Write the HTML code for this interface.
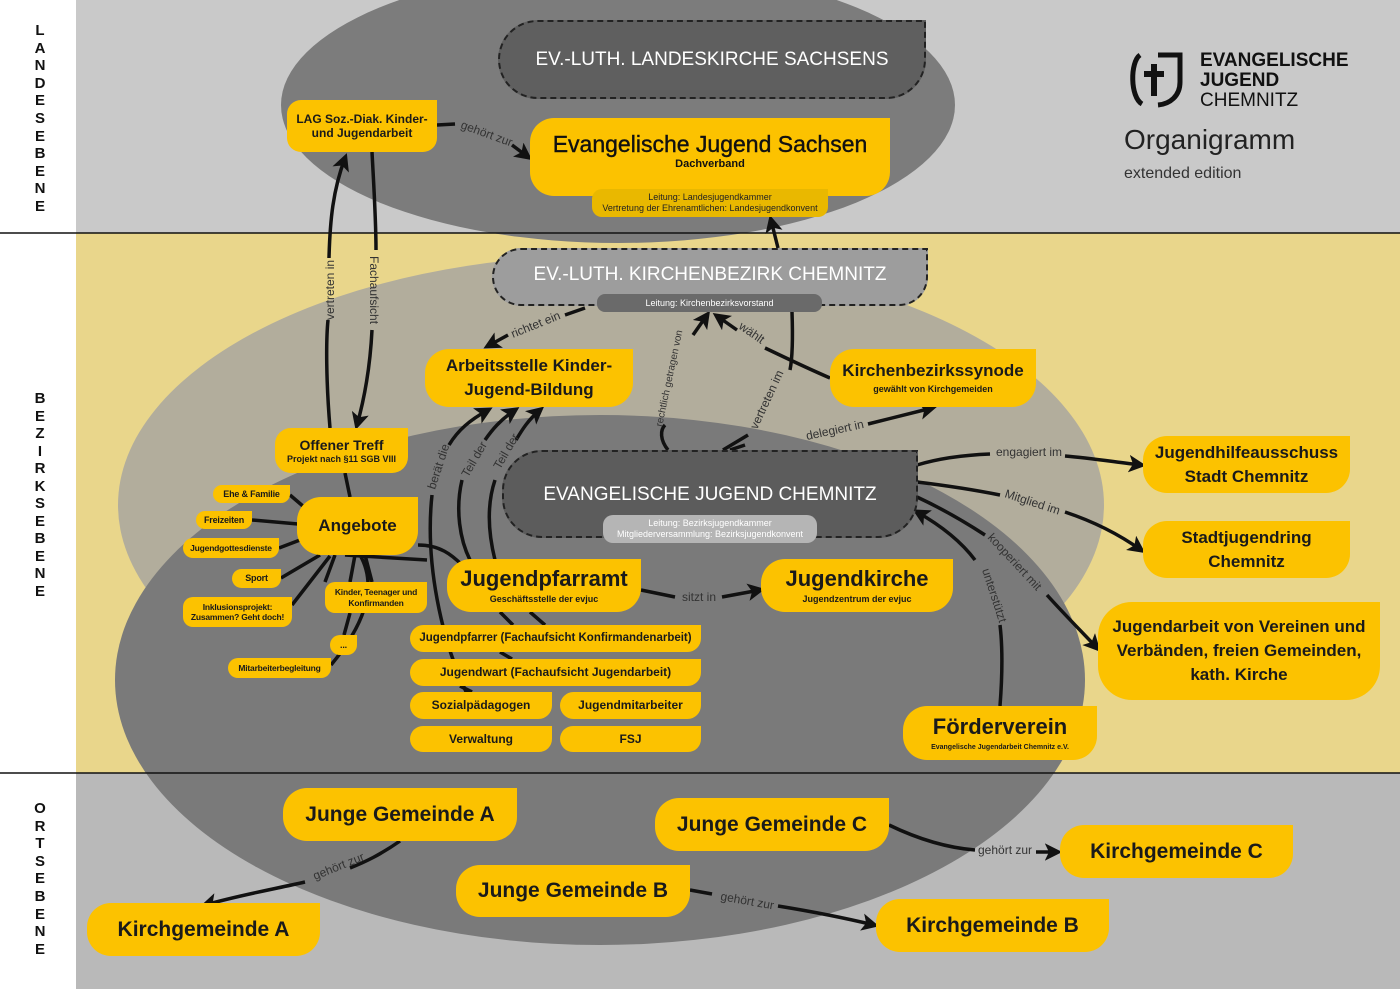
<!DOCTYPE html>
<html><head><meta charset="utf-8"><style>
*{margin:0;padding:0;box-sizing:border-box}
body{width:1400px;height:989px;position:relative;overflow:hidden;font-family:"Liberation Sans",sans-serif;background:#fff}
.b{position:absolute;background:#fcc200;border-radius:24px 0 24px 24px;color:#1a1a1a;font-weight:bold;text-align:center;display:flex;flex-direction:column;justify-content:center;align-items:center;line-height:1.2;white-space:nowrap}
.s{border-radius:10px 0 10px 10px;font-size:9px;letter-spacing:-0.2px}
.m{border-radius:14px 0 14px 14px;font-size:12px}
.d{position:absolute;border:2px dashed #222;border-radius:40px 0 40px 40px;color:#fff;font-size:19px;display:flex;justify-content:center;padding-top:0;align-items:center}
.sub{font-size:9px;font-weight:bold}
.lv{position:absolute;left:30px;width:20px;text-align:center;font-weight:bold;font-size:15px;color:#111}
</style></head><body>
<svg width="1400" height="989" style="position:absolute;left:0;top:0">
<defs>
<marker id="a" markerWidth="5" markerHeight="5" refX="3.5" refY="2.5" orient="auto" markerUnits="strokeWidth"><path d="M0,0 L5,2.5 L0,5 L1.2,2.5z" fill="#111"/></marker>
<clipPath id="mid"><rect x="76" y="233" width="1324" height="540"/></clipPath>
</defs>
<rect x="76" y="0" width="1324" height="233" fill="#c9c9c9"/>
<rect x="76" y="233" width="1324" height="540" fill="#e9d68b"/>
<rect x="76" y="773" width="1324" height="216" fill="#b9b9b9"/>
<ellipse cx="618" cy="105" rx="337" ry="138" fill="#7c7c7c"/>
<ellipse cx="611" cy="505" rx="493" ry="250" fill="#b2ad9c" clip-path="url(#mid)"/>
<ellipse cx="600" cy="680" rx="485" ry="265" fill="#7a7a7a"/>
<line x1="0" y1="233" x2="1400" y2="233" stroke="#111" stroke-width="1.5"/>
<line x1="0" y1="773" x2="1400" y2="773" stroke="#111" stroke-width="1.5"/>
<rect x="0" y="0" width="76" height="989" fill="#fff"/>
<line x1="0" y1="233" x2="76" y2="233" stroke="#111" stroke-width="1.5"/>
<line x1="0" y1="773" x2="76" y2="773" stroke="#111" stroke-width="1.5"/>
<g fill="none" stroke="#111" stroke-width="3.5">
<path d="M437,125 L455,124" /><path d="M512,145 L528,157" marker-end="url(#a)"/>
<path d="M330,428 C326,380 326,340 328,320" /><path d="M329,258 C330,220 333,190 345,158" marker-end="url(#a)"/>
<path d="M372,152 C374,190 376,220 376,250"/><path d="M372,330 C370,370 364,400 357,425" marker-end="url(#a)"/>
<path d="M778,248 L771,220" marker-end="url(#a)"/>
<path d="M585,308 L565,315"/><path d="M508,335 L488,346" marker-end="url(#a)"/>
<path d="M830,378 C800,365 780,355 765,348"/><path d="M737,330 L717,316" marker-end="url(#a)"/>
<path d="M668,450 C660,440 660,430 665,425"/><path d="M693,335 L707,315" marker-end="url(#a)"/>
<path d="M792,312 C793,340 792,360 790,370"/><path d="M748,435 L723,450"/>
<path d="M730,450 L745,445"/><path d="M868,424 L932,408" marker-end="url(#a)"/>
<path d="M449,445 C458,430 470,420 488,410" marker-end="url(#a)"/>
<path d="M485,440 C492,430 500,420 515,410" marker-end="url(#a)"/>
<path d="M516,440 C522,430 528,420 540,410" marker-end="url(#a)"/>
<path d="M432,495 C425,560 440,640 470,700"/>
<path d="M462,480 C455,510 460,540 470,560"/>
<path d="M495,480 C485,510 490,540 495,560"/>
<path d="M418,545 C440,545 452,555 462,565"/>
<path d="M500,612 L513,625 M530,612 L545,625 M500,652 L512,659 M460,686 L472,692"/>
<path d="M641,590 L675,597"/><path d="M722,597 L760,590" marker-end="url(#a)"/>
<path d="M917,465 C940,458 965,455 990,454"/><path d="M1065,456 C1090,458 1115,462 1141,465" marker-end="url(#a)"/>
<path d="M917,482 C950,486 975,490 1000,495"/><path d="M1065,512 C1095,522 1120,535 1141,550" marker-end="url(#a)"/>
<path d="M917,497 C945,510 965,522 985,535"/><path d="M1047,595 C1065,615 1082,632 1097,648" marker-end="url(#a)"/>
<path d="M1000,706 C1002,680 1003,650 1000,625"/><path d="M975,560 C960,540 940,525 917,512" marker-end="url(#a)"/>
<path d="M345,473 L350,497"/>
<path d="M290,495 L304,507 M252,520 L298,524 M279,548 L300,540 M281,578 L320,555 M292,605 L330,556 M427,560 L345,555 M344,635 L350,613 M331,665 C360,630 380,590 360,555 M335,555 L325,582 M355,555 L350,582 M365,555 L372,582"/>
<path d="M400,841 C380,855 365,862 350,868"/><path d="M305,882 C270,890 240,895 205,905" marker-end="url(#a)"/>
<path d="M690,890 L712,894"/><path d="M778,906 C815,912 845,918 874,925" marker-end="url(#a)"/>
<path d="M889,825 C920,840 950,848 975,850"/><path d="M1036,852 L1057,852" marker-end="url(#a)"/>
</g>
<g font-family="Liberation Sans,sans-serif" font-size="12" fill="#333">
<text transform="translate(460,128) rotate(20)">gehört zur</text>
<text transform="translate(334,320) rotate(-90)">vertreten in</text>
<text transform="translate(370,256) rotate(90)">Fachaufsicht</text>
<text transform="translate(513,338) rotate(-22)">richtet ein</text>
<text transform="translate(738,328) rotate(35)">wählt</text>
<text transform="translate(662,427) rotate(-78)" font-size="10">rechtlich getragen von</text>
<text transform="translate(757,430) rotate(-65)">vertreten im</text>
<text transform="translate(807,440) rotate(-12)">delegiert in</text>
<text transform="translate(435,490) rotate(-72)">berät die</text>
<text transform="translate(468,478) rotate(-60)">Teil der</text>
<text transform="translate(500,470) rotate(-60)">Teil der</text>
<text x="682" y="601">sitzt in</text>
<text x="996" y="456">engagiert im</text>
<text transform="translate(1004,497) rotate(18)">Mitglied im</text>
<text transform="translate(987,538) rotate(47)">kooperiert mit</text>
<text transform="translate(982,570) rotate(72)">unterstützt</text>
<text transform="translate(315,880) rotate(-22)">gehört zur</text>
<text transform="translate(720,900) rotate(10)">gehört zur</text>
<text x="978" y="854">gehört zur</text>
</g>
<g transform="translate(1128,52)" fill="none" stroke="#111" stroke-width="5">
<path d="M12,3 C2,10 2,45 14,52"/><path d="M30,3 L52,3 L52,30 C52,44 42,52 30,53"/>
<path d="M26,12 L26,44 M16,22 L36,22" stroke-width="6"/>
</g>
</svg>
<div class="lv" style="top:22px;line-height:17.6px">L<br>A<br>N<br>D<br>E<br>S<br>E<br>B<br>E<br>N<br>E</div>
<div class="lv" style="top:390px;line-height:17.5px">B<br>E<br>Z<br>I<br>R<br>K<br>S<br>E<br>B<br>E<br>N<br>E</div>
<div class="lv" style="top:800px;line-height:17.6px">O<br>R<br>T<br>S<br>E<br>B<br>E<br>N<br>E</div>

<div style="position:absolute;left:1200px;top:51px;font-weight:bold;font-size:19px;line-height:20px;color:#111">EVANGELISCHE<br>JUGEND<br><span style="font-weight:normal">CHEMNITZ</span></div>
<div style="position:absolute;left:1124px;top:124px;font-size:28px;color:#222">Organigramm</div>
<div style="position:absolute;left:1124px;top:165px;font-size:16px;color:#333">extended edition</div>

<div class="d" style="left:498px;top:20px;width:428px;height:79px;background:#5f5f5f">EV.-LUTH. LANDESKIRCHE SACHSENS</div>
<div class="b m" style="left:287px;top:100px;width:150px;height:52px;font-size:12px">LAG Soz.-Diak. Kinder-<br>und Jugendarbeit</div>
<div class="b" style="left:530px;top:118px;width:360px;height:78px;font-size:23px;padding-bottom:12px;font-weight:normal;color:#111"><span style="-webkit-text-stroke:0.4px #111">Evangelische Jugend Sachsen</span><span class="sub" style="font-size:11px">Dachverband</span></div>
<div class="b" style="left:592px;top:189px;width:236px;height:28px;background:#e9b800;border-radius:10px 0 10px 10px;font-size:9px;font-weight:normal;color:#222">Leitung: Landesjugendkammer<br>Vertretung der Ehrenamtlichen: Landesjugendkonvent</div>

<div class="d" style="left:492px;top:248px;width:436px;height:58px;background:#9d9d9d;padding-bottom:4px">EV.-LUTH. KIRCHENBEZIRK CHEMNITZ</div>
<div style="position:absolute;left:597px;top:294px;width:225px;height:18px;background:#6a6a6a;border-radius:8px;color:#fff;font-size:9px;text-align:center;line-height:18px">Leitung: Kirchenbezirksvorstand</div>

<div class="b" style="left:425px;top:349px;width:208px;height:58px;font-size:17px;line-height:24px">Arbeitsstelle Kinder-<br>Jugend-Bildung</div>
<div class="b" style="left:830px;top:349px;width:206px;height:58px;font-size:17px">Kirchenbezirkssynode<span class="sub" style="margin-top:2px">gewählt von Kirchgemeiden</span></div>
<div class="b" style="left:275px;top:428px;width:133px;height:45px;border-radius:16px 0 16px 16px;font-size:14px">Offener Treff<span class="sub">Projekt nach §11 SGB VIII</span></div>
<div class="b" style="left:297px;top:497px;width:121px;height:58px;font-size:17px">Angebote</div>
<div class="b s" style="left:213px;top:485px;width:77px;height:18px">Ehe &amp; Familie</div>
<div class="b s" style="left:196px;top:511px;width:56px;height:18px">Freizeiten</div>
<div class="b s" style="left:183px;top:538px;width:96px;height:20px;font-size:8.5px">Jugendgottesdienste</div>
<div class="b s" style="left:232px;top:569px;width:49px;height:19px">Sport</div>
<div class="b s" style="left:183px;top:597px;width:109px;height:30px;font-size:8.5px">Inklusionsprojekt:<br>Zusammen? Geht doch!</div>
<div class="b s" style="left:325px;top:582px;width:102px;height:31px;font-size:8.5px">Kinder, Teenager und<br>Konfirmanden</div>
<div class="b s" style="left:330px;top:635px;width:27px;height:20px">...</div>
<div class="b s" style="left:228px;top:658px;width:103px;height:20px;font-size:8.5px">Mitarbeiterbegleitung</div>

<div class="d" style="left:502px;top:450px;width:416px;height:88px;background:#5c5c5c;padding-bottom:0;align-items:flex-start;padding-top:32px">EVANGELISCHE JUGEND CHEMNITZ</div>
<div style="position:absolute;left:603px;top:515px;width:214px;height:28px;background:#b5b5b5;border-radius:10px;color:#fff;font-size:9px;text-align:center;line-height:11px;padding-top:3px">Leitung: Bezirksjugendkammer<br>Mitgliederversammlung: Bezirksjugendkonvent</div>

<div class="b" style="left:447px;top:559px;width:194px;height:53px;font-size:22px">Jugendpfarramt<span class="sub" style="margin-top:2px">Geschäftsstelle der evjuc</span></div>
<div class="b" style="left:761px;top:559px;width:192px;height:53px;font-size:22px">Jugendkirche<span class="sub" style="margin-top:2px">Jugendzentrum der evjuc</span></div>
<div class="b m" style="left:410px;top:625px;width:291px;height:27px;font-size:11.5px">Jugendpfarrer (Fachaufsicht Konfirmandenarbeit)</div>
<div class="b m" style="left:410px;top:659px;width:291px;height:27px">Jugendwart (Fachaufsicht Jugendarbeit)</div>
<div class="b m" style="left:410px;top:692px;width:142px;height:27px">Sozialpädagogen</div>
<div class="b m" style="left:560px;top:692px;width:141px;height:27px">Jugendmitarbeiter</div>
<div class="b m" style="left:410px;top:726px;width:142px;height:26px">Verwaltung</div>
<div class="b m" style="left:560px;top:726px;width:141px;height:26px">FSJ</div>

<div class="b" style="left:1143px;top:436px;width:207px;height:57px;font-size:17px;line-height:24px">Jugendhilfeausschuss<br>Stadt Chemnitz</div>
<div class="b" style="left:1143px;top:521px;width:207px;height:57px;font-size:17px;line-height:24px">Stadtjugendring<br>Chemnitz</div>
<div class="b" style="left:1098px;top:602px;width:282px;height:98px;font-size:17px;line-height:24px;border-radius:34px 0 34px 34px">Jugendarbeit von Vereinen und<br>Verbänden, freien Gemeinden,<br>kath. Kirche</div>
<div class="b" style="left:903px;top:706px;width:194px;height:54px;font-size:22px">Förderverein<span style="font-size:7px;margin-top:3px">Evangelische Jugendarbeit Chemnitz e.V.</span></div>

<div class="b" style="left:283px;top:788px;width:234px;height:53px;font-size:21px">Junge Gemeinde A</div>
<div class="b" style="left:655px;top:798px;width:234px;height:53px;font-size:21px">Junge Gemeinde C</div>
<div class="b" style="left:456px;top:865px;width:234px;height:52px;font-size:21px">Junge Gemeinde B</div>
<div class="b" style="left:1060px;top:825px;width:233px;height:53px;font-size:21px">Kirchgemeinde C</div>
<div class="b" style="left:876px;top:899px;width:233px;height:53px;font-size:21px">Kirchgemeinde B</div>
<div class="b" style="left:87px;top:903px;width:233px;height:53px;font-size:21px">Kirchgemeinde A</div>
</body></html>
